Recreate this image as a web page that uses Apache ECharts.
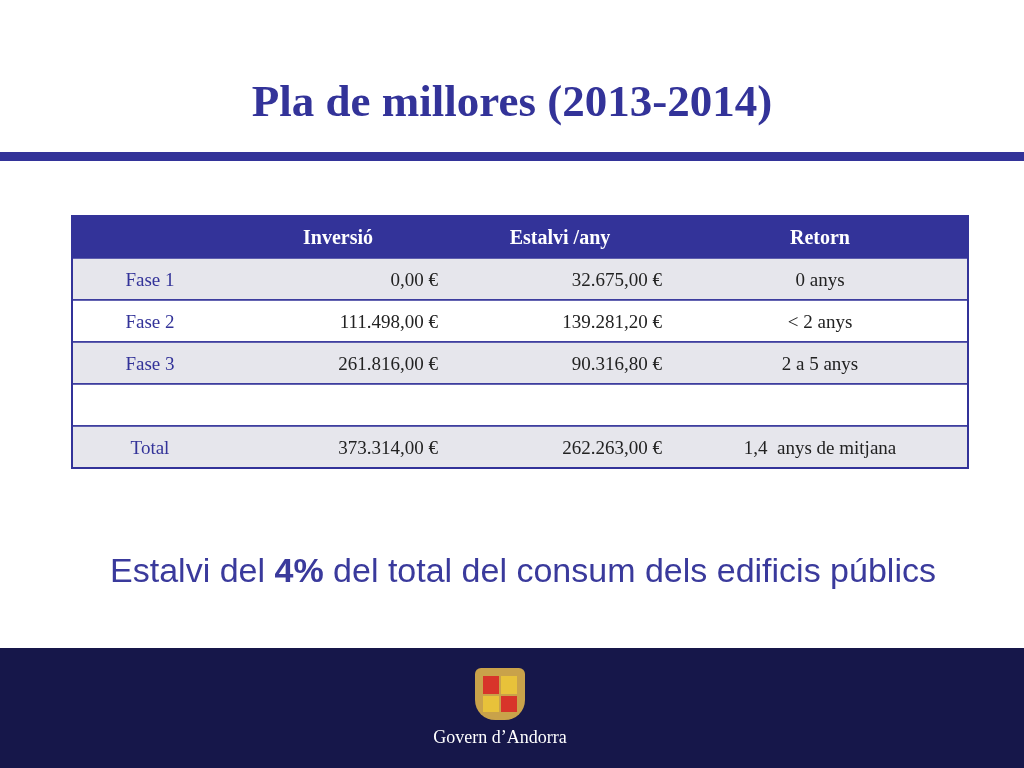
<!DOCTYPE html>
<html><head><meta charset="utf-8">
<script src="https://cdn.jsdelivr.net/npm/echarts@6/dist/echarts.min.js"></script>
<style>html,body{margin:0;padding:0;background:#fff}#c{width:1024px;height:768px}</style>
</head><body><div id="c"></div>
<script>
var headers = ['', 'Inversió', 'Estalvi /any', 'Retorn'];
var phases = ['Fase 1', 'Fase 2', 'Fase 3', '', 'Total'];
var investment = ['0,00 €', '111.498,00 €', '261.816,00 €', '', '373.314,00 €'];
var savings = ['32.675,00 €', '139.281,20 €', '90.316,80 €', '', '262.263,00 €'];
var payback = ['0 anys', '< 2 anys', '2 a 5 anys', '', '1,4  anys de mitjana'];

var chart = echarts.init(document.getElementById('c'));
var blue = '#333399';
var colX = [72, 228, 448, 672, 968];
var top0 = 216, rowH = 42;
var els = [];

els.push({type:'text', x:512, y:104, style:{text:'Pla de millores (2013-2014)', font:'bold 45px "Liberation Serif", serif', fill:blue, align:'center', verticalAlign:'middle'}});
els.push({type:'rect', shape:{x:0, y:152, width:1024, height:9}, style:{fill:blue}});

// header
els.push({type:'rect', shape:{x:72, y:top0, width:896, height:rowH}, style:{fill:blue}});
for (var c = 1; c < 4; c++) {
  els.push({type:'text', x:(colX[c]+colX[c+1])/2, y:top0+rowH/2+2, style:{text:headers[c], font:'bold 20px "Liberation Serif", serif', fill:'#fff', align:'center', verticalAlign:'middle'}});
}
var cols = [phases, investment, savings, payback];
for (var r = 0; r < phases.length; r++) {
  var y = top0 + rowH*(r+1);
  els.push({type:'rect', shape:{x:72, y:y, width:896, height:rowH}, style:{fill: r%2===0 ? '#e6e6ec' : '#fff', stroke:blue, lineWidth:1.5}});
  for (var c = 0; c < 4; c++) {
    var right = (c === 1 || c === 2);
    els.push({type:'text', x: right ? colX[c+1]-10 : (colX[c]+colX[c+1])/2, y:y+rowH/2+2,
      style:{text:cols[c][r], font:'19px "Liberation Serif", serif', fill: c===0 ? blue : '#222',
        align: right ? 'right' : 'center', verticalAlign:'middle'}});
  }
}
els.push({type:'rect', shape:{x:72, y:top0, width:896, height:rowH*6}, style:{fill:'none', stroke:blue, lineWidth:2}});

els.push({type:'text', x:523, y:573, style:{align:'center', verticalAlign:'middle', rich:{a:{font:'34px "Liberation Sans", sans-serif', fill:'#3a3a9c'}, b:{font:'bold 34px "Liberation Sans", sans-serif', fill:'#3a3a9c'}},
  text:'{a|Estalvi del }{b|4%}{a| del total del consum dels edificis públics}'}});

// footer
els.push({type:'rect', shape:{x:0, y:648, width:1024, height:120}, style:{fill:'#16174a'}});
els.push({type:'rect', shape:{x:475, y:668, width:50, height:52, r:[6,6,20,20]}, style:{fill:'#c9a24a'}});
els.push({type:'rect', shape:{x:483, y:676, width:16, height:18}, style:{fill:'#d8342a'}});
els.push({type:'rect', shape:{x:501, y:676, width:16, height:18}, style:{fill:'#e8c23a'}});
els.push({type:'rect', shape:{x:483, y:696, width:16, height:16}, style:{fill:'#e8c23a'}});
els.push({type:'rect', shape:{x:501, y:696, width:16, height:16}, style:{fill:'#d8342a'}});
els.push({type:'text', x:500, y:738, style:{text:'Govern d\u2019Andorra', font:'18px "Liberation Serif", serif', fill:'#fff', align:'center', verticalAlign:'middle'}});

chart.setOption({backgroundColor:'#fff', graphic:{elements:els}});
</script></body></html>
